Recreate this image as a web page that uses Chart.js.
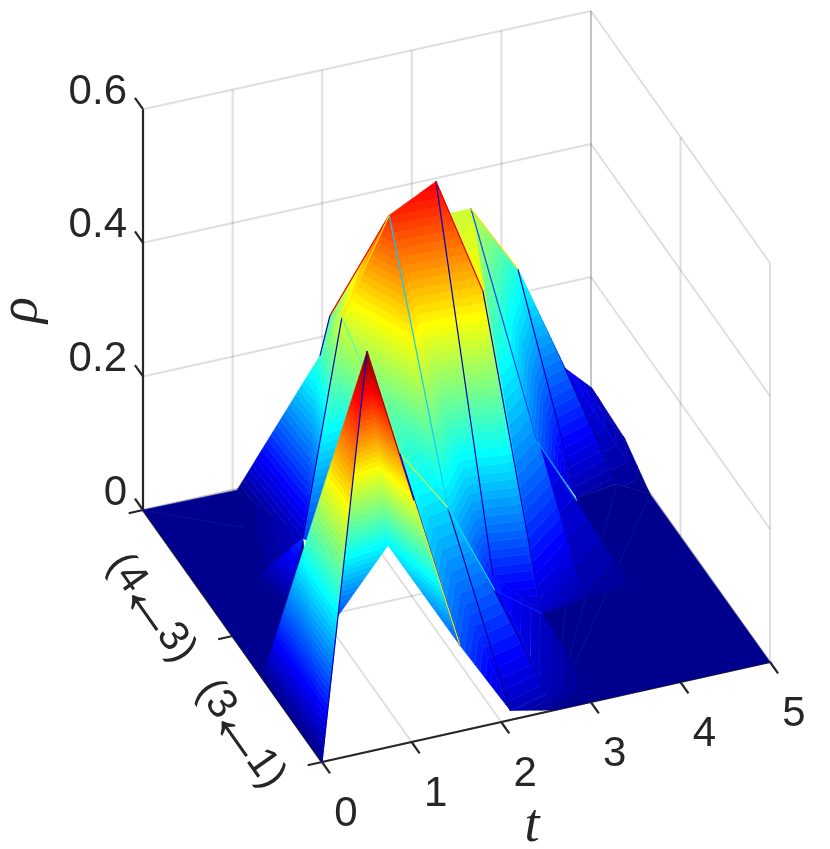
<!DOCTYPE html>
<html><head><meta charset="utf-8">
<style>html,body{margin:0;padding:0;background:#fff}canvas{display:block}</style>
<script src="https://cdn.jsdelivr.net/npm/chart.js@4/dist/chart.umd.min.js"></script>
</head><body><canvas id="c" width="830" height="849"></canvas>
<script>
// ---- tick values and labels
const tTicks = [0, 1, 2, 3, 4, 5];
const rhoTicks = [0, 0.2, 0.4, 0.6];
const rhoTickLabels = ['0', '0.2', '0.4', '0.6'];
const depthTicks = [0, 0.5, 1];
const depthLabels = [['(3', '\u2190', '1)'], ['(4', '\u2190', '3)']];
// ---- surface vertices: time, depth (0 = front, 1 = back), rho
const vertexT = [0, .503, 0, 1.026, 1.132, .603, 1.579, 2.03, 2.6, 2.5, 2.05, 1.711, 1.644, 2.116, 2.677, 2.967, 3.076, 2.539, 2.511, 2.97, 3.664, 3.456, 4.193, 4.708, 5.023, 5.047, 4.993, 4.69, 4.182, 3.666, 4.079, 4.126, 3.556, 3.07, 1.899, 1.612, 1.041, .882, 1.184, .58, .722, 1.28, 0, 5, 1.348, 4.744, 4.264, 3.125, 2.636, 3.94];
const vertexS = [0, 0, .333, 0, .198, .229, .02, -.036, 0, -.005, .323, .421, .712, .684, .703, .586, .64, .316, .291, .258, 1.002, 1.015, 1.004, .999, 1.006, .833, .667, .7, .668, .634, .617, .356, .322, .039, .906, .818, .996, .548, .699, .675, .557, .54, 1, 0, .781, .727, .709, .341, .063, .771];
const vertexRho = [0, .6, 0, .361, .216, .108, .12, .03, 0, .03, .198, .252, .348, .498, .525, .396, .372, .084, .072, .036, .342, .336, .234, .072, .03, .018, 0, .012, .018, .132, .036, .009, .018, 0, .27, .252, 0, .102, .036, 0, 0, .06, 0, 0, 0, 0, 0, 0, 0, .072];
// ---- faces of the surface, back to front
const backFaces = [[42,36,44,0],[8,43,26,45,46,47,48],[23,24,25,26,27],[22,23,27,28],[20,22,28,29],[49,30,31,32],[20,29,32,19,16,21],[9,19,33,8],[17,19,9,18],[14,15,19,17],[34,13,12,35],[12,35,38],[35,36,38],[36,39,38],[37,39,40],[12,11,41,37],[12,13,10,11],[13,14,17,10],[10,17,18],[7,9,8],[10,18,9,7],[11,10,7,6]];
const frontFaces = [[3,4,6],[1,3,4,5],[1,0,2]];
// ---- creases: from vertex, to vertex, colour value
const backCreases = [[12,37,.05],[13,10,.32],[10,7,.03],[14,17,.05],[10,18,.33],[18,9,.03],[15,19,.05],[20,29,.2],[29,30,.28],[30,31,.02],[22,28,.05],[23,27,.03],[35,34,.05],[34,13,.875],[13,12,.65],[12,11,.45],[11,10,.55],[14,15,.88],[20,22,.65],[18,19,.15]];
const frontCreases = [[0,1,.05],[1,3,.95],[11,6,.1],[3,6,.63]];

// ---- orthographic view of the box (pixels per data unit)
const origin = [322, 762], perT = [89.6, -20], perS = [-179, -252];
const rhoScale = t => 668 - 0.6 * t;
const project = (t, s, r) => ({ x: origin[0] + perT[0]*t + perS[0]*s, y: origin[1] + perT[1]*t + perS[1]*s - rhoScale(t)*r });
const RHO_MAX = 0.6, LEVELS = 64;
const clamp = v => Math.max(0, Math.min(1, v));
function jet(i) {
  const v = (i + 1) / LEVELS;
  const c = k => Math.round(255 * clamp(1.5 - Math.abs(4*v - k)));
  return `rgb(${c(3)},${c(2)},${c(1)})`;
}
const jetOf = v => jet(Math.min(LEVELS-1, Math.floor(v*LEVELS)));
const vert = i => ({ t: vertexT[i], s: vertexS[i], r: vertexRho[i] });
function clip(poly, lim, keepAbove) {
  const out = [];
  for (let i = 0; i < poly.length; i++) {
    const a = poly[i], b = poly[(i+1) % poly.length];
    const ina = keepAbove ? a.r >= lim : a.r <= lim, inb = keepAbove ? b.r >= lim : b.r <= lim;
    if (ina) out.push(a);
    if (ina !== inb) {
      const f = (lim - a.r) / (b.r - a.r);
      out.push({ t: a.t + f*(b.t-a.t), s: a.s + f*(b.s-a.s), r: lim });
    }
  }
  return out;
}
const paint = [];
function addLine(pts, color, width) {
  paint.push({ type:'scatter', showLine:true, data: pts.map(p => project(p[0],p[1],p[2])), borderColor:color, borderWidth:width, pointRadius:0, fill:false, tension:0 });
}
function addFace(face) {
  for (let k = 1; k < face.length - 1; k++) {
    const tri = [vert(face[0]), vert(face[k]), vert(face[k+1])];
    for (let b = 0; b < LEVELS; b++) {
      const lo = b/LEVELS*RHO_MAX, hi = (b+1)/LEVELS*RHO_MAX;
      let poly = clip(tri, lo, true);
      if (poly.length) poly = clip(poly, hi, false);
      if (poly.length < 3) continue;
      const d = poly.map(p => project(p.t, p.s, p.r)); d.push(d[0]);
      paint.push({ type:'scatter', showLine:true, data:d, borderColor:jet(b), backgroundColor:jet(b), borderWidth:.6, pointRadius:0, fill:'shape', tension:0 });
    }
  }
}
function addCrease(c, w) {
  const a = vert(c[0]), b = vert(c[1]);
  addLine([[a.t,a.s,a.r],[b.t,b.s,b.r]], jetOf(c[2]), w);
}
// grid
const GRID = 'rgba(38,38,38,0.15)', AXIS = '#262626';
const tMax = tTicks[tTicks.length-1];
tTicks.forEach(t => { addLine([[t,0,0],[t,1,0]], GRID, 2); addLine([[t,1,0],[t,1,RHO_MAX]], GRID, 2); });
rhoTicks.forEach(r => { addLine([[0,1,r],[tMax,1,r]], GRID, 2); addLine([[tMax,1,r],[tMax,0,r]], GRID, 2); });
depthTicks.forEach(s => { addLine([[0,s,0],[tMax,s,0]], GRID, 2); addLine([[tMax,s,0],[tMax,s,RHO_MAX]], GRID, 2); });
// axes and ticks
addLine([[0,0,0],[tMax,0,0]], AXIS, 2.2);
addLine([[0,0,0],[0,1,0]], AXIS, 2.2);
addLine([[0,1,0],[0,1,RHO_MAX]], AXIS, 2.2);
tTicks.forEach(t => addLine([[t,0,0],[t,-.045,0]], AXIS, 2.2));
depthTicks.forEach(s => addLine([[0,s,0],[-.16,s,0]], AXIS, 2.2));
rhoTicks.forEach(r => addLine([[0,1,r],[0,1.045,r]], AXIS, 2.2));
// surface
backFaces.forEach(addFace);
backCreases.forEach(c => addCrease(c, 1.2));
frontFaces.forEach(addFace);
frontCreases.forEach(c => addCrease(c, 1.2));

const SANS = '42px "Liberation Sans"', ARROW = '72px "Liberation Sans"';
const textPlugin = { id:'text3d', afterDraw(chart) {
  const g = chart.ctx, X = chart.scales.x, Y = chart.scales.y;
  const px = p => [X.getPixelForValue(p.x), Y.getPixelForValue(p.y)];
  g.save(); g.fillStyle = AXIS; g.textBaseline = 'middle';
  g.font = SANS;
  g.textAlign = 'right';
  rhoTicks.forEach((r,i) => { const [x,y] = px(project(0,1,r)); g.fillText(rhoTickLabels[i], x-16, y-17); });
  g.textAlign = 'center';
  tTicks.forEach(t => { const [x,y] = px(project(t,0,0)); g.fillText(String(t), x+24, y+52); });
  depthLabels.forEach((lab,i) => {
    const [x,y] = px(project(0, .25 + .5*i, 0));
    g.save(); g.translate(x-36.5, y+35); g.rotate(54.6*Math.PI/180);
    g.font = SANS; g.textAlign = 'right'; g.fillText(lab[0], -24, 0);
    g.textAlign = 'left'; g.fillText(lab[2], 24, 0);
    g.font = ARROW; g.textAlign = 'center'; g.fillText(lab[1], 0, 0);
    g.restore();
  });
  g.textAlign = 'center';
  g.font = 'italic 54px "Liberation Serif"';
  const [tx,ty] = px(project(2.5,0,0));
  g.fillText('t', tx-14, ty+115);
  g.save(); g.translate(22, 310); g.rotate(-Math.PI/2); g.fillText('\u03C1', 0, 0); g.restore();
  g.restore();
}};
new Chart(document.getElementById('c'), {
  type:'scatter',
  data:{ datasets: paint.slice().reverse() },
  plugins:[textPlugin],
  options:{ responsive:false, animation:false, events:[], clip:false,
    layout:{padding:0},
    plugins:{legend:{display:false}, tooltip:{enabled:false}, title:{display:false}},
    scales:{ x:{type:'linear',min:0,max:830,display:false}, y:{type:'linear',min:0,max:849,reverse:true,display:false} }
  }
});
</script></body></html>
